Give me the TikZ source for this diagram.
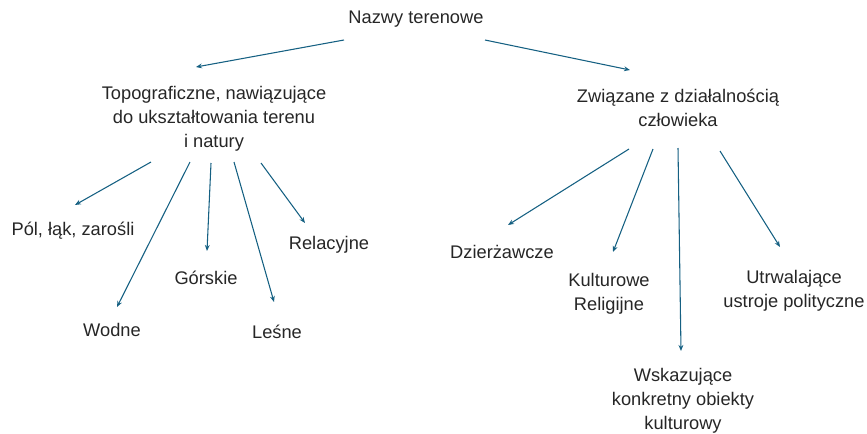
\documentclass[tikz,border=0pt]{standalone}
\usepackage{fontspec}
\setmainfont{Liberation Sans}
\usetikzlibrary{arrows.meta}
\definecolor{arrowblue}{HTML}{156082}
\definecolor{textgray}{HTML}{262626}
\begin{document}
\begin{tikzpicture}[x=0.75pt,y=-0.75pt,
    every node/.style={font=\fontsize{13.7}{17.8}\selectfont, text=textgray, align=center, inner sep=0pt},
    arr/.style={draw=arrowblue, line width=0.8pt, -{Stealth[length=4.5pt,width=3.6pt]}}]
  \useasboundingbox (0,0) rectangle (867,433);
  % labels
  \node (root) at (416,19) {Nazwy terenowe};
  \node (topo) at (214,119) {Topograficzne, nawiązujące\\do ukształtowania terenu\\i natury};
  \node (czlow) at (678,108) {Związane z działalnością\\człowieka};
  \node (pol) at (73,231) {Pól, łąk, zarośli};
  \node (wodne) at (112,330) {Wodne};
  \node (gorskie) at (206,278) {Górskie};
  \node (lesne) at (277,332) {Leśne};
  \node (relac) at (329,245) {Relacyjne};
  \node (dzierz) at (502,252) {Dzierżawcze};
  \node (kult) at (609,294) {Kulturowe\\Religijne};
  \node (wskaz) at (683,401) {Wskazujące\\konkretny obiekty\\kulturowy};
  \node (utrw) at (794,291) {Utrwalające\\ustroje polityczne};
  % arrow ends
  \coordinate (r1) at (344,40);  \coordinate (t0) at (196,67);
  \coordinate (r2) at (485,40);  \coordinate (c0) at (630,70);
  \coordinate (t1) at (151,162); \coordinate (p0) at (75,205);
  \coordinate (t2) at (190,162); \coordinate (w0) at (117,307);
  \coordinate (t3) at (211,163); \coordinate (g0) at (207,251);
  \coordinate (t4) at (234,162); \coordinate (l0) at (274,302);
  \coordinate (t5) at (261,163); \coordinate (re0) at (305,223);
  \coordinate (c1) at (629,149); \coordinate (d0) at (508,225);
  \coordinate (c2) at (653,149); \coordinate (k0) at (613,252);
  \coordinate (c3) at (678,148); \coordinate (ws0) at (681,351);
  \coordinate (c4) at (720,151); \coordinate (u0) at (780,247);
  % arrows
  \draw[arr] (r1) -- (t0);
  \draw[arr] (r2) -- (c0);
  \draw[arr] (t1) -- (p0);
  \draw[arr] (t2) -- (w0);
  \draw[arr] (t3) -- (g0);
  \draw[arr] (t4) -- (l0);
  \draw[arr] (t5) -- (re0);
  \draw[arr] (c1) -- (d0);
  \draw[arr] (c2) -- (k0);
  \draw[arr] (c3) -- (ws0);
  \draw[arr] (c4) -- (u0);
\end{tikzpicture}
\end{document}
